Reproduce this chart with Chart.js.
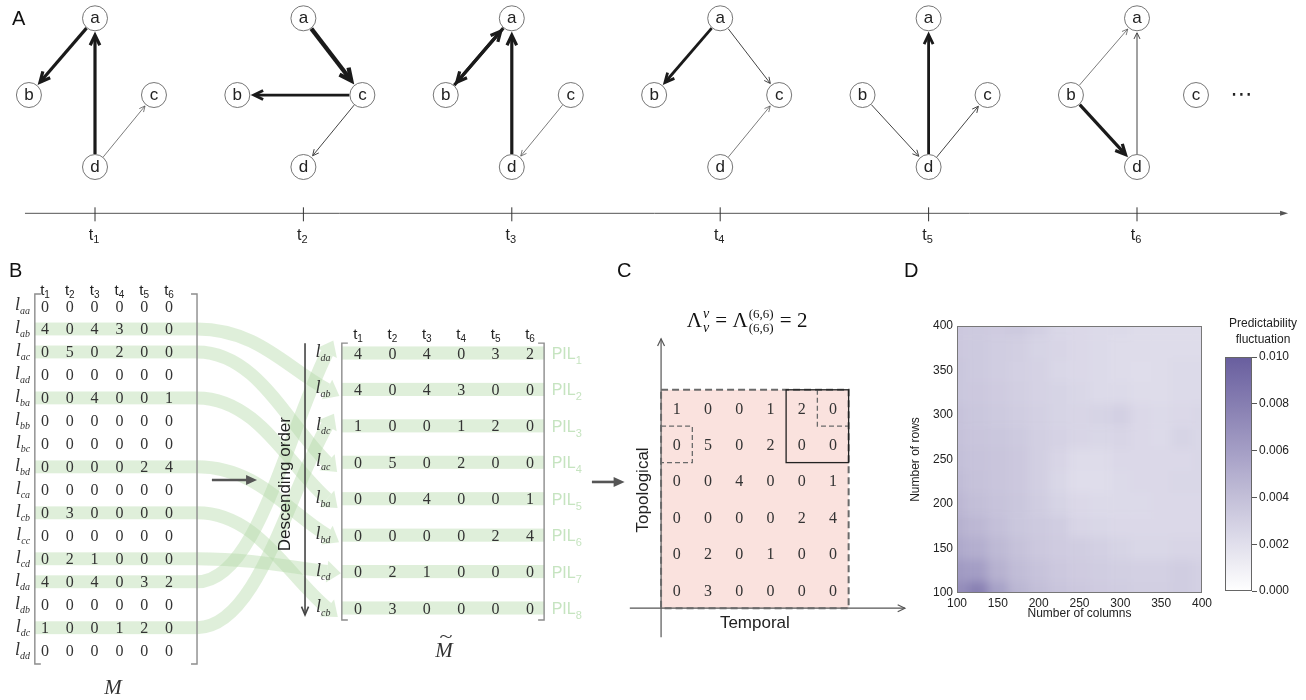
<!DOCTYPE html>
<html>
<head>
<meta charset="utf-8">
<title>Temporal network predictability</title>
<script src="https://cdn.jsdelivr.net/npm/chart.js@4.4.1/dist/chart.umd.min.js"></script>
<style>
  html, body { margin: 0; padding: 0; background: #fff; }
  #page { position: relative; width: 1306px; height: 700px; overflow: hidden; background: #fff; }
  #page canvas { position: absolute; }
</style>
</head>
<body>
<div id="page">
  <canvas id="chartA" width="1306" height="260" style="left:0px;top:0px"></canvas>
  <canvas id="chartB" width="640" height="440" style="left:0px;top:260px"></canvas>
  <canvas id="chartC" width="320" height="440" style="left:600px;top:260px"></canvas>
  <canvas id="chartD" width="315" height="361" style="left:900px;top:260px"></canvas>
  <canvas id="chartBar" width="91" height="310" style="left:1215px;top:300px"></canvas>
</div>
<script>
const SANS = '"Liberation Sans", Arial, sans-serif';
const SERIF = '"Liberation Serif", "Times New Roman", serif';

// ---- data ----
const timeSteps = [1, 2, 3, 4, 5, 6];
const timeSubs = ['1', '2', '3', '4', '5', '6'];
const nodes = ['a', 'b', 'c', 'd'];
const links = ['aa', 'ab', 'ac', 'ad', 'ba', 'bb', 'bc', 'bd', 'ca', 'cb', 'cc', 'cd', 'da', 'db', 'dc', 'dd'];
const M = [
  [0, 0, 0, 0, 0, 0],
  [4, 0, 4, 3, 0, 0],
  [0, 5, 0, 2, 0, 0],
  [0, 0, 0, 0, 0, 0],
  [0, 0, 4, 0, 0, 1],
  [0, 0, 0, 0, 0, 0],
  [0, 0, 0, 0, 0, 0],
  [0, 0, 0, 0, 2, 4],
  [0, 0, 0, 0, 0, 0],
  [0, 3, 0, 0, 0, 0],
  [0, 0, 0, 0, 0, 0],
  [0, 2, 1, 0, 0, 0],
  [4, 0, 4, 0, 3, 2],
  [0, 0, 0, 0, 0, 0],
  [1, 0, 0, 1, 2, 0],
  [0, 0, 0, 0, 0, 0]
];
const descendingLinks = ['da', 'ab', 'dc', 'ac', 'ba', 'bd', 'cd', 'cb'];
const pilSubs = ['1', '2', '3', '4', '5', '6', '7', '8'];
const blockMatrix = [
  [1, 0, 0, 1, 2, 0],
  [0, 5, 0, 2, 0, 0],
  [0, 0, 4, 0, 0, 1],
  [0, 0, 0, 0, 2, 4],
  [0, 2, 0, 1, 0, 0],
  [0, 3, 0, 0, 0, 0]
];
const heatColumns = [100, 125, 150, 175, 200, 225, 250, 275, 300, 325, 350, 375, 400];
const heatRows = [400, 375, 350, 325, 300, 275, 250, 225, 200, 175, 150, 125, 100];
const heatValues = [
  [0.0034, 0.0033, 0.0032, 0.0033, 0.0029, 0.0025, 0.0024, 0.0023, 0.0023, 0.0022, 0.0022, 0.0022, 0.0022],
  [0.0034, 0.0033, 0.0031, 0.0030, 0.0027, 0.0026, 0.0024, 0.0023, 0.0022, 0.0022, 0.0022, 0.0022, 0.0022],
  [0.0035, 0.0033, 0.0031, 0.0029, 0.0028, 0.0025, 0.0024, 0.0023, 0.0022, 0.0021, 0.0022, 0.0023, 0.0023],
  [0.0035, 0.0034, 0.0032, 0.0030, 0.0028, 0.0027, 0.0025, 0.0023, 0.0023, 0.0022, 0.0022, 0.0023, 0.0023],
  [0.0037, 0.0035, 0.0033, 0.0031, 0.0029, 0.0027, 0.0026, 0.0027, 0.0029, 0.0024, 0.0023, 0.0024, 0.0025],
  [0.0038, 0.0036, 0.0035, 0.0033, 0.0030, 0.0028, 0.0026, 0.0025, 0.0026, 0.0024, 0.0023, 0.0027, 0.0025],
  [0.0039, 0.0037, 0.0036, 0.0034, 0.0030, 0.0026, 0.0022, 0.0022, 0.0024, 0.0024, 0.0024, 0.0024, 0.0025],
  [0.0041, 0.0038, 0.0036, 0.0034, 0.0030, 0.0025, 0.0021, 0.0021, 0.0023, 0.0024, 0.0024, 0.0025, 0.0025],
  [0.0044, 0.0040, 0.0037, 0.0035, 0.0031, 0.0027, 0.0024, 0.0023, 0.0023, 0.0023, 0.0024, 0.0024, 0.0024],
  [0.0048, 0.0044, 0.0039, 0.0035, 0.0033, 0.0031, 0.0026, 0.0025, 0.0024, 0.0024, 0.0024, 0.0024, 0.0024],
  [0.0053, 0.0050, 0.0043, 0.0038, 0.0034, 0.0032, 0.0031, 0.0029, 0.0027, 0.0025, 0.0025, 0.0026, 0.0026],
  [0.0062, 0.0060, 0.0048, 0.0041, 0.0037, 0.0034, 0.0032, 0.0031, 0.0030, 0.0029, 0.0029, 0.0031, 0.0029],
  [0.0070, 0.0078, 0.0058, 0.0045, 0.0040, 0.0036, 0.0034, 0.0032, 0.0031, 0.0030, 0.0030, 0.0031, 0.0029]
];
const heatMax = 0.010;

// layout of the little graphs (time units / levels)
const nodeShift = { a: 0, b: -0.317, c: 0.283, d: 0 };
const nodeLevel = { a: 2, b: 0.968, c: 0.968, d: 0 };
const edgeWidth = [0, 0.7, 1.0, 2.8, 3.2, 4.3];

// ---- helpers ----
function spanX(p1, v1, p2, v2, len) {
  const k = (v2 - v1) / (p2 - p1);
  return { type: 'linear', display: false, min: v1 - p1 * k, max: v1 + (len - p1) * k };
}
function spanY(p1, v1, p2, v2, len) {
  const k = (v2 - v1) / (p2 - p1);
  const a = v1 - p1 * k, b = v1 + (len - p1) * k;
  return { type: 'linear', display: false, min: Math.min(a, b), max: Math.max(a, b), reverse: k > 0 };
}
function baseOptions(scales, padding) {
  return {
    responsive: false, animation: false, events: [],
    layout: { padding: padding || 0, autoPadding: false },
    plugins: { legend: { display: false }, tooltip: { enabled: false } },
    scales: scales
  };
}
function line(ctx, x1, y1, x2, y2) {
  ctx.beginPath(); ctx.moveTo(x1, y1); ctx.lineTo(x2, y2); ctx.stroke();
}
function filledHead(ctx, x, y, ang, len, half) {
  const c = Math.cos(ang), s = Math.sin(ang);
  ctx.beginPath();
  ctx.moveTo(x, y);
  ctx.lineTo(x - c * len - s * half, y - s * len + c * half);
  ctx.lineTo(x - c * len + s * half, y - s * len - c * half);
  ctx.closePath(); ctx.fill();
}
function openHead(ctx, x, y, ang, len, spread) {
  ctx.beginPath();
  ctx.moveTo(x - Math.cos(ang - spread) * len, y - Math.sin(ang - spread) * len);
  ctx.lineTo(x, y);
  ctx.lineTo(x - Math.cos(ang + spread) * len, y - Math.sin(ang + spread) * len);
  ctx.stroke();
}
function drawSub(ctx, x, y, main, sub, mainFont, subFont, align, dy) {
  ctx.font = mainFont; const w1 = ctx.measureText(main).width;
  ctx.font = subFont; const w2 = ctx.measureText(sub).width;
  const x0 = align === 'center' ? x - (w1 + w2) / 2 : align === 'right' ? x - w1 - w2 : x;
  ctx.textAlign = 'left'; ctx.textBaseline = 'alphabetic';
  ctx.font = mainFont; ctx.fillText(main, x0, y);
  ctx.font = subFont; ctx.fillText(sub, x0 + w1, y + dy);
}
function panelLetter(ctx, letter, x, y) {
  ctx.save();
  ctx.fillStyle = '#111'; ctx.font = '20px ' + SANS;
  ctx.textAlign = 'left'; ctx.textBaseline = 'alphabetic';
  ctx.fillText(letter, x, y);
  ctx.restore();
}
function bracket(ctx, xl, xr, yt, yb) {
  ctx.save();
  ctx.strokeStyle = '#8c8c8c'; ctx.lineWidth = 1.4;
  ctx.beginPath();
  ctx.moveTo(xl + 6, yt); ctx.lineTo(xl, yt); ctx.lineTo(xl, yb); ctx.lineTo(xl + 6, yb);
  ctx.moveTo(xr - 6, yt); ctx.lineTo(xr, yt); ctx.lineTo(xr, yb); ctx.lineTo(xr - 6, yb);
  ctx.stroke();
  ctx.restore();
}
function heatColor(v) {
  const t = Math.max(0, Math.min(1, v / heatMax));
  const r = Math.round(255 - t * (255 - 104));
  const g = Math.round(255 - t * (255 - 94));
  const b = Math.round(255 - t * (255 - 158));
  return `rgb(${r},${g},${b})`;
}

// ---- panel A ----
const timelineLevel = -0.623, timelineStart = 0.664, timelineEnd = 6.725;
const NODE_R = 12.5;

function edgeArrow(ctx, x1, y1, x2, y2, w) {
  const dx = x2 - x1, dy = y2 - y1, L = Math.hypot(dx, dy);
  const ux = dx / L, uy = dy / L;
  const lw = edgeWidth[w];
  const spread = 0.45;
  const sx = x1 + ux * (NODE_R + 0.5), sy = y1 + uy * (NODE_R + 0.5);
  const tip = NODE_R + 0.8 + lw / (2 * Math.sin(spread));
  const tx = x2 - ux * tip, ty = y2 - uy * tip;
  ctx.lineWidth = lw;
  ctx.strokeStyle = lw < 1.5 ? '#444' : '#1a1a1a';
  ctx.lineCap = 'butt'; ctx.lineJoin = 'miter';
  line(ctx, sx, sy, tx - ux * lw * 0.6, ty - uy * lw * 0.6);
  openHead(ctx, tx, ty, Math.atan2(uy, ux), 5 + lw * 1.9, spread);
}

const panelA = {
  id: 'panelA',
  beforeDatasetsDraw(chart) {
    const { ctx, scales: { x, y } } = chart;
    ctx.save();
    // time axis
    const ty = y.getPixelForValue(timelineLevel);
    const xs = x.getPixelForValue(timelineStart), xe = x.getPixelForValue(timelineEnd);
    ctx.strokeStyle = '#555'; ctx.fillStyle = '#555'; ctx.lineWidth = 1;
    line(ctx, xs, ty, xe - 4, ty);
    filledHead(ctx, xe, ty, 0, 8, 2.5);
    ctx.fillStyle = '#222';
    timeSteps.forEach((t, j) => {
      const px = x.getPixelForValue(t);
      ctx.strokeStyle = '#333';
      line(ctx, px, ty - 6, px, ty + 8);
      drawSub(ctx, px - 1, ty + 27, 't', timeSubs[j], '16px ' + SANS, '11px ' + SANS, 'center', 3);
    });
    // links
    links.forEach((ln, i) => {
      const s = ln[0], d = ln[1];
      if (s === d) return;
      timeSteps.forEach((t, j) => {
        const w = M[i][j];
        if (!w) return;
        edgeArrow(ctx,
          x.getPixelForValue(t + nodeShift[s]), y.getPixelForValue(nodeLevel[s]),
          x.getPixelForValue(t + nodeShift[d]), y.getPixelForValue(nodeLevel[d]), w);
      });
    });
    ctx.restore();
  },
  afterDatasetsDraw(chart) {
    const { ctx, scales: { x, y } } = chart;
    const meta = chart.getDatasetMeta(0);
    const pts = chart.data.datasets[0].data;
    ctx.save();
    ctx.fillStyle = '#222'; ctx.font = '17px ' + SANS;
    ctx.textAlign = 'center'; ctx.textBaseline = 'middle';
    meta.data.forEach((el, i) => ctx.fillText(pts[i].n, el.x, el.y));
    ctx.font = '22px "DejaVu Sans", ' + SANS;
    ctx.fillText('\u22EF', x.getPixelForValue(timeSteps[5] + 0.5), y.getPixelForValue(nodeLevel.c));
    ctx.restore();
    panelLetter(ctx, 'A', 12, 25);
  }
};

new Chart(document.getElementById('chartA'), {
  type: 'scatter',
  data: {
    datasets: [{
      data: timeSteps.flatMap(t => nodes.map(n => ({ x: t + nodeShift[n], y: nodeLevel[n], n: n }))),
      pointRadius: NODE_R, pointBackgroundColor: '#fff', pointBorderColor: '#666', pointBorderWidth: 0.9,
      clip: false
    }]
  },
  options: baseOptions({ x: spanX(95, 1, 1137, 6, 1306), y: spanY(18.3, 2, 167, 0, 260) }),
  plugins: [panelA]
});

// ---- panel B ----
const BAND = 'rgb(223,239,218)';
const RIBBON = 'rgba(178,218,168,0.42)';
const M_LEFT = -0.41, M_RIGHT = 6.13, M_TOP = -0.52, M_BOTTOM = 15.58;
const T_LEFT = -0.47, T_RIGHT = 5.41, T_TOP = -0.27, T_BOTTOM = 7.33;

const panelB = {
  id: 'panelB',
  beforeDatasetsDraw(chart) {
    const { ctx, scales: { xM, yM, xT, yT } } = chart;
    ctx.save();
    ctx.fillStyle = BAND;
    const mx0 = xM.getPixelForValue(M_LEFT), mx1 = xM.getPixelForValue(M_RIGHT);
    links.forEach((ln, i) => {
      if (!M[i].some(v => v > 0)) return;
      const a = yM.getPixelForValue(i - 0.28), b = yM.getPixelForValue(i + 0.28);
      ctx.fillRect(mx0, a, mx1 - mx0, b - a);
    });
    const tx0 = xT.getPixelForValue(T_LEFT), tx1 = xT.getPixelForValue(T_RIGHT);
    descendingLinks.forEach((ln, k) => {
      const a = yT.getPixelForValue(k - 0.18), b = yT.getPixelForValue(k + 0.18);
      ctx.fillRect(tx0, a, tx1 - tx0, b - a);
    });
    // ribbons from M rows to sorted rows
    ctx.strokeStyle = RIBBON; ctx.fillStyle = RIBBON; ctx.lineWidth = 13; ctx.lineCap = 'butt';
    descendingLinks.forEach((ln, k) => {
      const i = links.indexOf(ln);
      const x1 = mx1, y1 = yM.getPixelForValue(i);
      const x2 = xT.getPixelForValue(-0.9), y2 = yT.getPixelForValue(k);
      const c1x = x1 + 60, c1y = y1;
      const c2x = x2 - 40, c2y = y2 + (y1 - y2) * 0.35;
      ctx.beginPath(); ctx.moveTo(x1, y1); ctx.bezierCurveTo(c1x, c1y, c2x, c2y, x2, y2); ctx.stroke();
      const ang = Math.atan2(y2 - c2y, x2 - c2x);
      filledHead(ctx, x2 + Math.cos(ang) * 14, y2 + Math.sin(ang) * 14, ang, 14, 11);
    });
    ctx.restore();
  },
  afterDatasetsDraw(chart) {
    const { ctx, scales: { xM, yM, xT, yT } } = chart;
    ctx.save();
    bracket(ctx, xM.getPixelForValue(M_LEFT), xM.getPixelForValue(M_RIGHT), yM.getPixelForValue(M_TOP), yM.getPixelForValue(M_BOTTOM));
    bracket(ctx, xT.getPixelForValue(T_LEFT), xT.getPixelForValue(T_RIGHT), yT.getPixelForValue(T_TOP), yT.getPixelForValue(T_BOTTOM));
    ctx.fillStyle = '#222';
    // column headers
    timeSteps.forEach((t, j) => {
      drawSub(ctx, xM.getPixelForValue(j), yM.getPixelForValue(-0.74) + 6, 't', timeSubs[j], '15px ' + SANS, '10px ' + SANS, 'center', 3);
      drawSub(ctx, xT.getPixelForValue(j), yT.getPixelForValue(-0.55) + 6, 't', timeSubs[j], '15px ' + SANS, '10px ' + SANS, 'center', 3);
    });
    // M values and row labels
    ctx.fillStyle = '#333';
    links.forEach((ln, i) => {
      const py = yM.getPixelForValue(i);
      ctx.font = '16px ' + SERIF; ctx.textAlign = 'center'; ctx.textBaseline = 'alphabetic';
      M[i].forEach((v, j) => ctx.fillText(String(v), xM.getPixelForValue(j), py + 5.5));
      drawSub(ctx, xM.getPixelForValue(-0.6), py + 4, 'l', ln, 'italic 18px ' + SERIF, 'italic 10px ' + SERIF, 'right', 4);
    });
    // sorted matrix
    descendingLinks.forEach((ln, k) => {
      const row = M[links.indexOf(ln)];
      const py = yT.getPixelForValue(k);
      ctx.fillStyle = '#333';
      ctx.font = '16px ' + SERIF; ctx.textAlign = 'center'; ctx.textBaseline = 'alphabetic';
      row.forEach((v, j) => ctx.fillText(String(v), xT.getPixelForValue(j), py + 5.5));
      drawSub(ctx, xT.getPixelForValue(-0.8), py + 4, 'l', ln, 'italic 18px ' + SERIF, 'italic 10px ' + SERIF, 'right', 4);
      ctx.fillStyle = 'rgb(198,228,192)';
      drawSub(ctx, xT.getPixelForValue(5.63), py + 6, 'PIL', pilSubs[k], '16px ' + SANS, '11px ' + SANS, 'left', 5);
    });
    // matrix names
    ctx.fillStyle = '#333'; ctx.font = 'italic 21px ' + SERIF; ctx.textAlign = 'center';
    ctx.fillText('M', xM.getPixelForValue(2.74), yM.getPixelForValue(16.58) + 7);
    const mtx = xT.getPixelForValue(2.5), mty = yT.getPixelForValue(8.15) + 7;
    ctx.fillText('M', mtx, mty);
    ctx.save();
    ctx.translate(mtx + 2, mty - 19);
    ctx.scale(1.5, 1);
    ctx.font = '16px ' + SERIF; ctx.textBaseline = 'middle';
    ctx.fillText('~', 0, 0);
    ctx.restore();
    // descending order arrow and label
    ctx.strokeStyle = '#444'; ctx.lineWidth = 1.6;
    const ax = xT.getPixelForValue(-1.54);
    line(ctx, ax, yT.getPixelForValue(-0.27), ax, yT.getPixelForValue(7.19));
    openHead(ctx, ax, yT.getPixelForValue(7.19), Math.PI / 2, 9, 0.4);
    ctx.save();
    ctx.translate(xT.getPixelForValue(-2.12), yT.getPixelForValue(3.6));
    ctx.rotate(-Math.PI / 2);
    ctx.fillStyle = '#222'; ctx.font = '17px ' + SANS; ctx.textAlign = 'center'; ctx.textBaseline = 'middle';
    ctx.fillText('Descending order', 0, 0);
    ctx.restore();
    // step arrows
    ctx.strokeStyle = '#555'; ctx.fillStyle = '#555'; ctx.lineWidth = 2.6;
    const ay = yM.getPixelForValue(7.57);
    const a0 = xM.getPixelForValue(6.73), a1 = xM.getPixelForValue(8.55);
    line(ctx, a0, ay, a1 - 8, ay); filledHead(ctx, a1, ay, 0, 11, 5);
    const by = yT.getPixelForValue(3.54);
    const b0 = xT.getPixelForValue(6.8), b1 = xT.getPixelForValue(7.75);
    line(ctx, b0, by, b1 - 8, by); filledHead(ctx, b1, by, 0, 11, 5);
    ctx.restore();
    panelLetter(ctx, 'B', 9, 17);
  }
};

new Chart(document.getElementById('chartB'), {
  type: 'scatter',
  data: {
    datasets: [{
      xAxisID: 'xT', yAxisID: 'yT', pointRadius: 0,
      data: descendingLinks.flatMap((ln, k) => timeSteps.map((t, j) => ({ x: j, y: k })))
    }]
  },
  options: baseOptions({
    xM: spanX(45, 0, 169, 5, 640), yM: spanY(46, 0, 390.7, 15, 440),
    xT: spanX(358, 0, 530, 5, 640), yT: spanY(93, 0, 348, 7, 440)
  }),
  plugins: [panelB]
});

// ---- panel C ----
const panelC = {
  id: 'panelC',
  beforeDatasetsDraw(chart) {
    const { ctx, scales: { xC, yC } } = chart;
    const L = xC.getPixelForValue(-0.5), R = xC.getPixelForValue(5.5);
    const T = yC.getPixelForValue(-0.5), B = yC.getPixelForValue(5.5);
    ctx.save();
    ctx.fillStyle = 'rgb(250,226,222)';
    ctx.fillRect(L, T, R - L, B - T);
    ctx.restore();
  },
  afterDatasetsDraw(chart) {
    const { ctx, scales: { xC, yC } } = chart;
    const px = v => xC.getPixelForValue(v), py = v => yC.getPixelForValue(v);
    ctx.save();
    // values
    ctx.fillStyle = '#333'; ctx.font = '16px ' + SERIF; ctx.textAlign = 'center'; ctx.textBaseline = 'alphabetic';
    blockMatrix.forEach((row, r) => row.forEach((v, c) => ctx.fillText(String(v), px(c), py(r) + 5.5)));
    // axes
    ctx.strokeStyle = '#555'; ctx.lineWidth = 1.2;
    line(ctx, px(-0.5), py(6.3), px(-0.5), py(-1.9));
    openHead(ctx, px(-0.5), py(-1.9), -Math.PI / 2, 8, 0.45);
    line(ctx, px(-1.5), py(5.5), px(7.3), py(5.5));
    openHead(ctx, px(7.3), py(5.5), 0, 8, 0.45);
    // dashed outline
    ctx.strokeStyle = '#6a6a6a'; ctx.lineWidth = 2; ctx.setLineDash([7, 4]);
    ctx.strokeRect(px(-0.5), py(-0.5), px(5.5) - px(-0.5), py(5.5) - py(-0.5));
    ctx.lineWidth = 1.3; ctx.setLineDash([5, 3]);
    ctx.beginPath();
    ctx.moveTo(px(4.5), py(-0.5)); ctx.lineTo(px(4.5), py(0.5)); ctx.lineTo(px(5.5), py(0.5));
    ctx.moveTo(px(-0.5), py(0.5)); ctx.lineTo(px(0.5), py(0.5)); ctx.lineTo(px(0.5), py(1.5)); ctx.lineTo(px(-0.5), py(1.5));
    ctx.stroke();
    ctx.setLineDash([]);
    ctx.strokeStyle = '#222'; ctx.lineWidth = 1.3;
    ctx.strokeRect(px(3.5), py(-0.5), px(5.5) - px(3.5), py(1.5) - py(-0.5));
    // labels
    ctx.fillStyle = '#222'; ctx.font = '17px ' + SANS; ctx.textAlign = 'center'; ctx.textBaseline = 'middle';
    ctx.fillText('Temporal', px(2.5), py(5.92));
    ctx.save();
    ctx.translate(px(-1.08), py(2.25)); ctx.rotate(-Math.PI / 2);
    ctx.fillText('Topological', 0, 0);
    ctx.restore();
    // formula
    const big = '21px ' + SERIF, it = 'italic 14px ' + SERIF, sm = '13px ' + SERIF;
    const parts = [
      { t: '\u039B', f: big },
      { sup: 'v', sub: 'v', f: it },
      { t: ' = \u039B', f: big },
      { sup: '(6,6)', sub: '(6,6)', f: sm },
      { t: ' = 2', f: big }
    ];
    let total = 0;
    parts.forEach(p => {
      ctx.font = p.f;
      p.w = p.t ? ctx.measureText(p.t).width
        : Math.max(ctx.measureText(p.sup).width, ctx.measureText(p.sub).width) + 2;
      total += p.w;
    });
    let fx = px(2.25) - total / 2;
    const fy = py(-2.42) + 7;
    ctx.textAlign = 'left'; ctx.textBaseline = 'alphabetic'; ctx.fillStyle = '#111';
    parts.forEach(p => {
      ctx.font = p.f;
      if (p.t) ctx.fillText(p.t, fx, fy);
      else { ctx.fillText(p.sup, fx + 1, fy - 9); ctx.fillText(p.sub, fx + 1, fy + 5); }
      fx += p.w;
    });
    ctx.restore();
    panelLetter(ctx, 'C', 17, 17);
  }
};

new Chart(document.getElementById('chartC'), {
  type: 'scatter',
  data: {
    datasets: [{
      xAxisID: 'xC', yAxisID: 'yC', pointRadius: 0,
      data: blockMatrix.flatMap((row, r) => row.map((v, c) => ({ x: c, y: r })))
    }]
  },
  options: baseOptions({ xC: spanX(76.7, 0, 233, 5, 320), yC: spanY(148, 0, 330, 5, 440) }),
  plugins: [panelC]
});

// ---- panel D ----
const heatPlugin = {
  id: 'heat',
  beforeDatasetsDraw(chart) {
    const { ctx, chartArea: a, scales: { x, y } } = chart;
    const m = 30;
    const off = document.createElement('canvas');
    off.width = Math.ceil(a.right - a.left) + 2 * m;
    off.height = Math.ceil(a.bottom - a.top) + 2 * m;
    const o = off.getContext('2d');
    const lastC = heatColumns.length - 1, lastR = heatRows.length - 1;
    heatRows.forEach((ry, r) => heatColumns.forEach((cx, c) => {
      const x0 = cx - 12.5 - (c === 0 ? 40 : 0), x1 = cx + 12.5 + (c === lastC ? 40 : 0);
      const y0 = ry + 12.5 + (r === 0 ? 40 : 0), y1 = ry - 12.5 - (r === lastR ? 40 : 0);
      const p0 = x.getPixelForValue(x0) - a.left + m, p1 = x.getPixelForValue(x1) - a.left + m;
      const q0 = y.getPixelForValue(y0) - a.top + m, q1 = y.getPixelForValue(y1) - a.top + m;
      o.fillStyle = heatColor(heatValues[r][c]);
      o.fillRect(p0, q0, p1 - p0 + 0.6, q1 - q0 + 0.6);
    }));
    ctx.save();
    ctx.beginPath(); ctx.rect(a.left, a.top, a.right - a.left, a.bottom - a.top); ctx.clip();
    ctx.filter = 'blur(5px)';
    ctx.drawImage(off, a.left - m, a.top - m);
    ctx.restore();
    ctx.save();
    ctx.strokeStyle = '#777'; ctx.lineWidth = 1;
    ctx.strokeRect(a.left + 0.5, a.top + 0.5, a.right - a.left - 1, a.bottom - a.top - 1);
    ctx.restore();
  },
  afterDraw(chart) { panelLetter(chart.ctx, 'D', 4, 17); }
};

const tickFont = { family: SANS, size: 12 };
new Chart(document.getElementById('chartD'), {
  type: 'scatter',
  data: {
    datasets: [{
      pointRadius: 0,
      data: heatRows.flatMap((ry, r) => heatColumns.map((cx, c) => ({ x: cx, y: ry, v: heatValues[r][c] })))
    }]
  },
  options: {
    responsive: false, animation: false, events: [],
    layout: { padding: { top: 66, right: 12, left: 0, bottom: 0 }, autoPadding: false },
    plugins: { legend: { display: false }, tooltip: { enabled: false } },
    scales: {
      x: {
        type: 'linear', min: 100, max: 400,
        ticks: { stepSize: 50, font: tickFont, color: '#222', padding: 3, maxRotation: 0, autoSkip: false },
        grid: { display: false, drawTicks: false }, border: { display: false },
        title: { display: true, text: 'Number of columns', font: tickFont, color: '#222', padding: { top: 0, bottom: 0 } },
        afterFit: s => { s.height = 28; }
      },
      y: {
        type: 'linear', min: 100, max: 400,
        ticks: { stepSize: 50, font: tickFont, color: '#222', padding: 4 },
        grid: { display: false, drawTicks: false }, border: { display: false },
        title: { display: true, text: 'Number of rows', font: tickFont, color: '#222', padding: { top: 8, bottom: 0 } },
        afterFit: s => { s.width = 57; }
      }
    }
  },
  plugins: [heatPlugin]
});

// ---- colour bar ----
const barTicks = [0, 0.002, 0.004, 0.006, 0.008, 0.010];
const barPlugin = {
  id: 'bar',
  beforeDatasetsDraw(chart) {
    const { ctx, chartArea: a, scales: { y } } = chart;
    const g = ctx.createLinearGradient(0, y.getPixelForValue(0), 0, y.getPixelForValue(heatMax));
    for (let i = 0; i <= 20; i++) g.addColorStop(i / 20, heatColor(heatMax * i / 20));
    ctx.save();
    ctx.fillStyle = g;
    ctx.fillRect(a.left, a.top, a.right - a.left, a.bottom - a.top);
    ctx.strokeStyle = '#666'; ctx.lineWidth = 1;
    ctx.strokeRect(a.left + 0.5, a.top + 0.5, a.right - a.left - 1, a.bottom - a.top - 1);
    ctx.fillStyle = '#222'; ctx.font = '12px ' + SANS; ctx.textAlign = 'center'; ctx.textBaseline = 'middle';
    ctx.fillText('Predictability', 48, 24);
    ctx.fillText('fluctuation', 48, 40);
    ctx.restore();
  }
};
new Chart(document.getElementById('chartBar'), {
  type: 'scatter',
  data: { datasets: [{ pointRadius: 0, data: barTicks.map(v => ({ x: 0.5, y: v })) }] },
  options: {
    responsive: false, animation: false, events: [],
    layout: { padding: { left: 10, top: 57, bottom: 19, right: 0 }, autoPadding: false },
    plugins: { legend: { display: false }, tooltip: { enabled: false } },
    scales: {
      x: { type: 'linear', display: false, min: 0, max: 1 },
      y: {
        type: 'linear', position: 'right', min: 0, max: heatMax,
        afterBuildTicks: s => { s.ticks = barTicks.map(v => ({ value: v })); },
        ticks: { font: tickFont, color: '#222', padding: 2, callback: v => Number(v).toFixed(3) },
        grid: { drawOnChartArea: false, tickLength: 5, color: '#555' }, border: { display: false },
        afterFit: s => { s.width = 54; }
      }
    }
  },
  plugins: [barPlugin]
});
</script>
</body>
</html>
